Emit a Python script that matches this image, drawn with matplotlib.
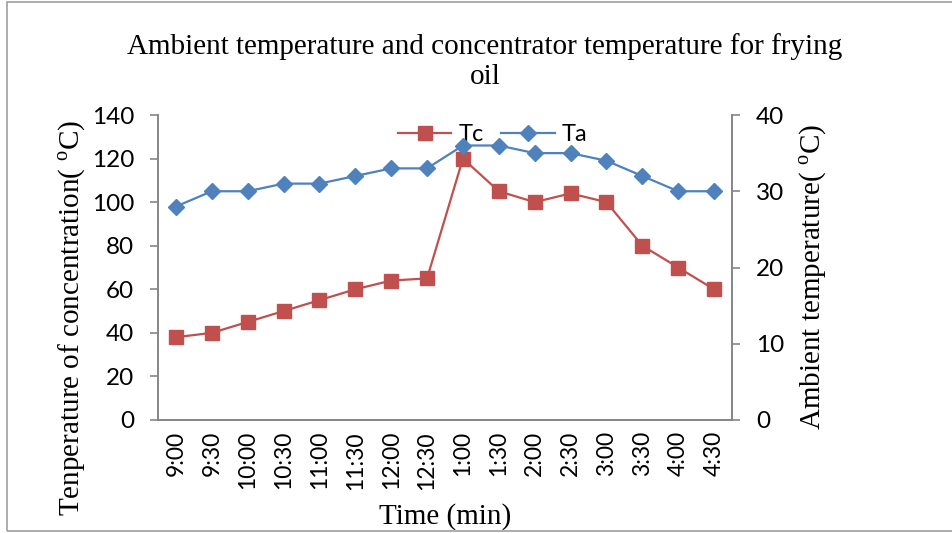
import matplotlib
matplotlib.use("Agg")
import matplotlib.pyplot as plt
from matplotlib.patches import Rectangle

times = ["9:00", "9:30", "10:00", "10:30", "11:00", "11:30", "12:00", "12:30",
         "1:00", "1:30", "2:00", "2:30", "3:00", "3:30", "4:00", "4:30"]
tc = [38, 40, 45, 50, 55, 60, 64, 65, 120, 105, 100, 104, 100, 80, 70, 60]
ta = [28, 30, 30, 31, 31, 32, 33, 33, 36, 36, 35, 35, 34, 32, 30, 30]

plt.rcParams['mathtext.fontset'] = 'custom'
plt.rcParams['mathtext.rm'] = 'Liberation Serif'

SANS = 'Lato'
SERIF = 'Liberation Serif'
RED = '#C0504D'
BLUE = '#4F81BD'
GRAY = '#868686'

fig = plt.figure(figsize=(9.52, 5.33), dpi=100)
fig.patches.append(Rectangle((7/952, 2/533), 1.0, 529/533, transform=fig.transFigure,
                             fill=False, edgecolor='#A0A0A0', linewidth=1.2))

ax = fig.add_axes([158/952, 1 - 420/533, 574/952, 305/533])
ax2 = ax.twinx()

x = list(range(len(times)))
l1, = ax.plot(x, tc, color=RED, lw=1.6, marker='s', ms=10, label='Tc')
l2, = ax2.plot(x, ta, color=BLUE, lw=1.6, marker='D', ms=8, label='Ta')

ax.set_xlim(-0.5, len(times) - 0.5)
ax.set_ylim(0, 140)
ax.set_yticks(range(0, 141, 20))
ax2.set_ylim(0, 40)
ax2.set_yticks(range(0, 41, 10))
ax.set_xticks(x)
ax.set_xticklabels(times, rotation=90, fontfamily=SANS, fontsize=16.5)

for a in (ax, ax2):
    a.spines['top'].set_visible(False)
    for s in ('left', 'right', 'bottom'):
        a.spines[s].set_color(GRAY)
        a.spines[s].set_linewidth(1.2)
    a.tick_params(axis='y', length=5.8, width=1.2, color=GRAY, labelsize=17.5, pad=11.5)
    for lab in a.get_yticklabels():
        lab.set_fontfamily(SANS)
ax.tick_params(axis='x', length=0, pad=8)

ax.set_ylabel(r"Tenperature of concentration( $^{\mathrm{o}}$C)", fontfamily=SERIF, fontsize=21)
ax.yaxis.set_label_coords(-0.122, 0.334)
ax2.set_ylabel(r"Ambient temperature( $^{\mathrm{o}}$C)", fontfamily=SERIF, fontsize=21)
ax2.yaxis.set_label_coords(1.115, 0.469)
ax.set_xlabel("Time (min)", fontfamily=SERIF, fontsize=21)
ax.xaxis.set_label_coords(0.5, -0.272)

fig.text(485/952, 1 - 62/533, "Ambient temperature and concentrator temperature for frying\noil",
         ha='center', va='center', fontfamily=SERIF, fontsize=21, linespacing=1.2)

leg = ax.legend(handles=[l1, l2], loc='upper center', bbox_to_anchor=(0.583, 1.04), ncol=2,
                frameon=False, prop={'family': SANS, 'size': 17}, handlelength=2.25,
                columnspacing=0.76, handletextpad=0.3)
leg.set_zorder(1)

fig.savefig("out.png", dpi=100)
